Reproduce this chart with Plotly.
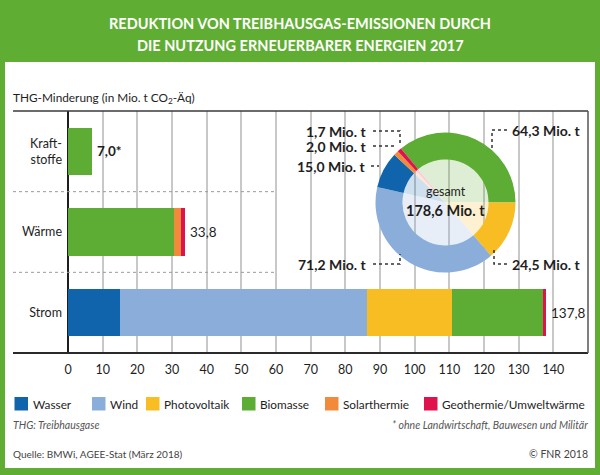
import plotly.graph_objects as go

# ---------------- data ----------------
categories = ["Kraftstoffe", "Wärme", "Strom"]
category_ticktext = ["Kraft-<br>stoffe", "Wärme", "Strom"]
series_names = ["Wasser", "Wind", "Photovoltaik", "Biomasse", "Solarthermie", "Geothermie/Umweltwärme"]
wasser = [0.0, 0.0, 15.0]
wind = [0.0, 0.0, 71.2]
photovoltaik = [0.0, 0.0, 24.5]
biomasse = [7.0, 30.6, 26.6]
solarthermie = [0.0, 2.0, 0.0]
geothermie = [0.0, 1.2, 0.5]
total_values = [7.0, 33.8, 137.8]
total_labels = ["7,0*", "33,8", "137,8"]
x_tick_values = [0, 10, 20, 30, 40, 50, 60, 70, 80, 90, 100, 110, 120, 130, 140]

donut_names = ["Biomasse", "Photovoltaik", "Wind", "Wasser", "Solarthermie", "Geothermie/Umweltwärme"]
donut_values = [64.3, 24.5, 71.2, 15.0, 2.0, 1.7]
donut_labels = ["64,3 Mio. t", "24,5 Mio. t", "71,2 Mio. t", "15,0 Mio. t", "2,0 Mio. t", "1,7 Mio. t"]
donut_total_label = "178,6 Mio. t"

# ---------------- style ----------------
colors = {
    "Wasser": "#0F64AC",
    "Wind": "#8AAED9",
    "Photovoltaik": "#F8BD22",
    "Biomasse": "#5DAC33",
    "Solarthermie": "#F28A3B",
    "Geothermie/Umweltwärme": "#E0124E",
}
FRAME_GREEN = "#5FAD32"
FONT = "Lato, Roboto, sans-serif"
TXT = "#1e1e1e"

W, H = 600, 475
L, R, T, B = 68, 12, 111, 122
PW, PH = W - L - R, H - T - B


def px(xp):
    return (xp - L) / PW


def py(yp):
    return (T + PH - yp) / PH


series = [wasser, wind, photovoltaik, biomasse, solarthermie, geothermie]

fig = go.Figure()
for name, vals in zip(series_names, series):
    fig.add_trace(go.Bar(
        y=categories, x=vals, name=name, orientation="h",
        marker=dict(color=colors[name], line=dict(width=0)),
        showlegend=False, hoverinfo="skip",
    ))

# donut (outer ring) + pale inner fill
cx, cy, r_out, r_in = 445.5, 202.5, 70, 43
fig.add_trace(go.Pie(
    values=donut_values, labels=donut_names, sort=False, direction="clockwise",
    rotation=-39.5, hole=r_in / r_out, textinfo="none", hoverinfo="skip",
    marker=dict(colors=[colors[n] for n in donut_names], line=dict(width=0)),
    domain=dict(x=[px(cx - r_out), px(cx + r_out)], y=[py(cy + r_out), py(cy - r_out)]),
    showlegend=False,
))
fig.add_trace(go.Pie(
    values=donut_values, labels=donut_names, sort=False, direction="clockwise",
    rotation=-39.5, textinfo="none", hoverinfo="skip", opacity=0.2,
    marker=dict(colors=[colors[n] for n in donut_names], line=dict(width=0)),
    domain=dict(x=[px(cx - r_in), px(cx + r_in)], y=[py(cy + r_in), py(cy - r_in)]),
    showlegend=False,
))

shapes = []
annotations = []

# white inner panel
shapes.append(dict(type="rect", xref="paper", yref="paper", layer="below",
                   x0=px(5), x1=px(595), y0=py(468), y1=py(62),
                   fillcolor="white", line=dict(width=0)))
# white box behind the donut (hides grid)
shapes.append(dict(type="rect", xref="x", yref="paper", layer="between",
                   x0=60.4, x1=151, y0=py(283), y1=1.0,
                   fillcolor="white", line=dict(width=0)))
# frame lines
shapes.append(dict(type="line", xref="paper", yref="paper", x0=px(13), x1=1, y0=1, y1=1,
                   line=dict(color="#3a3a3a", width=1.5)))
shapes.append(dict(type="line", xref="paper", yref="paper", x0=px(13), x1=1, y0=0, y1=0,
                   line=dict(color="#2a2a2a", width=2)))
shapes.append(dict(type="line", xref="paper", yref="paper", x0=1, x1=1, y0=0, y1=1,
                   line=dict(color="#555555", width=1.5)))
# dotted category separators
for yv in (0.5, 1.5):
    shapes.append(dict(type="line", xref="paper", yref="y", x0=px(13), x1=px(277), y0=yv, y1=yv,
                       line=dict(color="#9a9a9a", width=1, dash="dot")))

# donut leader lines and labels
leaders = {
    "1,7 Mio. t": ([(373, 131), (400, 131), (400, 146)], "right", 368, 131),
    "2,0 Mio. t": ([(373, 146), (397, 146)], "right", 368, 146),
    "15,0 Mio. t": ([(371, 166), (379, 166)], "right", 367, 166),
    "71,2 Mio. t": ([(373, 264), (400, 264), (400, 254)], "right", 368, 264),
    "64,3 Mio. t": ([(507, 130), (492, 130), (492, 149)], "left", 510, 130),
    "24,5 Mio. t": ([(507, 264), (494, 264), (494, 250)], "left", 510, 264),
}
for lab in donut_labels:
    pts, anchor, tx, ty = leaders[lab]
    path = "M " + " L ".join(f"{px(a):.5f},{py(b):.5f}" for a, b in pts)
    shapes.append(dict(type="path", xref="paper", yref="paper", path=path,
                       line=dict(color="#333333", width=1.5, dash="dot")))
    annotations.append(dict(xref="paper", yref="paper", x=px(tx), y=py(ty), text=f"<b>{lab}</b>",
                            showarrow=False, xanchor=anchor, yanchor="middle",
                            font=dict(size=14, color=TXT, family=FONT)))

annotations.append(dict(xref="paper", yref="paper", x=px(cx), y=py(191.5), text="gesamt",
                        showarrow=False, xanchor="center", yanchor="middle",
                        font=dict(size=12.5, color=TXT, family=FONT)))
annotations.append(dict(xref="paper", yref="paper", x=px(cx), y=py(210), text=f"<b>{donut_total_label}</b>",
                        showarrow=False, xanchor="center", yanchor="middle",
                        font=dict(size=14.5, color=TXT, family=FONT)))

# bar totals
for cat, v, lab in zip(categories, total_values, total_labels):
    txt = f"<b>{lab}</b>" if lab.endswith("*") else lab
    annotations.append(dict(xref="x", yref="y", x=v, y=cat, text=txt, showarrow=False,
                            xanchor="left", yanchor="middle", xshift=3,
                            font=dict(size=13.5, color=TXT, family=FONT)))

# title
annotations.append(dict(xref="paper", yref="paper", x=px(300), y=py(23),
                        text="<b>REDUKTION VON TREIBHAUSGAS-EMISSIONEN DURCH</b>",
                        showarrow=False, xanchor="center", yanchor="middle",
                        font=dict(size=14.5, color="white", family=FONT)))
annotations.append(dict(xref="paper", yref="paper", x=px(300), y=py(46),
                        text="<b>DIE NUTZUNG ERNEUERBARER ENERGIEN 2017</b>",
                        showarrow=False, xanchor="center", yanchor="middle",
                        font=dict(size=14.5, color="white", family=FONT)))
# axis title
annotations.append(dict(xref="paper", yref="paper", x=px(11), y=py(98),
                        text="THG-Minderung (in Mio. t CO<sub>2</sub>-Äq)",
                        showarrow=False, xanchor="left", yanchor="middle",
                        font=dict(size=11.8, color=TXT, family=FONT)))

# manual legend
legend_sq_left = [14.5, 92, 146, 242, 325, 424]
for name, xl in zip(series_names, legend_sq_left):
    shapes.append(dict(type="rect", xref="paper", yref="paper",
                       x0=px(xl), x1=px(xl + 13.5), y0=py(410.5), y1=py(397),
                       fillcolor=colors[name], line=dict(width=0)))
    annotations.append(dict(xref="paper", yref="paper", x=px(xl + 16), y=py(404), text=name,
                            showarrow=False, xanchor="left", yanchor="middle",
                            font=dict(size=11.8, color=TXT, family=FONT)))

# footnotes
annotations.append(dict(xref="paper", yref="paper", x=px(11), y=py(425), text="<i>THG: Treibhausgase</i>",
                        showarrow=False, xanchor="left", yanchor="middle",
                        font=dict(size=10.5, color="#555555", family=FONT)))
annotations.append(dict(xref="paper", yref="paper", x=px(590), y=py(425),
                        text="<i>* ohne Landwirtschaft, Bauwesen und Militär</i>",
                        showarrow=False, xanchor="right", yanchor="middle",
                        font=dict(size=10.5, color="#555555", family=FONT)))
annotations.append(dict(xref="paper", yref="paper", x=px(11), y=py(454),
                        text="Quelle: BMWi, AGEE-Stat (März 2018)",
                        showarrow=False, xanchor="left", yanchor="middle",
                        font=dict(size=10, color="#444444", family=FONT)))
annotations.append(dict(xref="paper", yref="paper", x=px(590), y=py(454),
                        text="© FNR 2018",
                        showarrow=False, xanchor="right", yanchor="middle",
                        font=dict(size=10.5, color="#444444", family=FONT)))

fig.update_layout(
    width=W, height=H,
    margin=dict(l=L, r=R, t=T, b=B, autoexpand=False),
    paper_bgcolor=FRAME_GREEN, plot_bgcolor="white",
    barmode="stack", bargap=0.415,
    font=dict(family=FONT, color=TXT),
    xaxis=dict(range=[0, 150], tickvals=x_tick_values, showgrid=True,
               gridcolor="#c8c8c8", gridwidth=1.5,
               zeroline=True, zerolinecolor="#1e1e1e", zerolinewidth=1.5,
               showline=False, ticks="", tickfont=dict(size=12.5, color=TXT, family=FONT),
               ticklabelstandoff=7, fixedrange=True),
    yaxis=dict(categoryorder="array", categoryarray=categories, autorange="reversed",
               tickvals=categories, ticktext=category_ticktext, showgrid=False,
               zeroline=False, showline=False, ticks="",
               tickfont=dict(size=12.5, color=TXT, family=FONT), ticklabelstandoff=5,
               fixedrange=True),
    shapes=shapes, annotations=annotations,
)

fig.write_html("out.html", config={"displayModeBar": False},
               post_script="document.body.style.margin='0';")
